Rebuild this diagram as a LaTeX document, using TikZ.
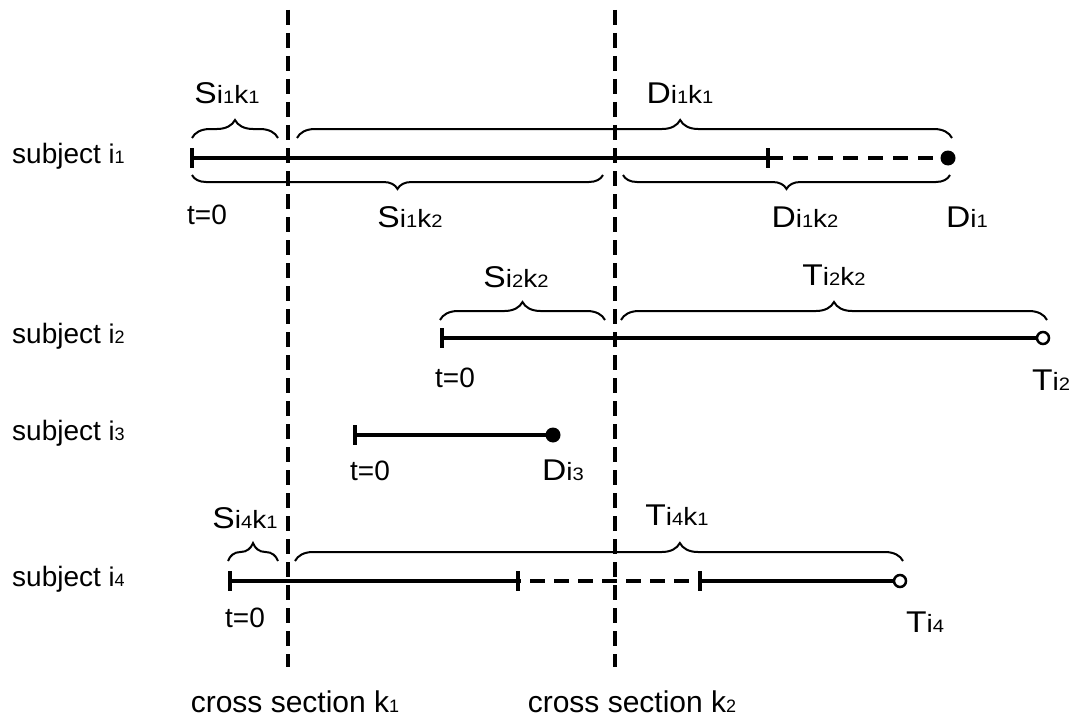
\documentclass[tikz,border=0pt]{standalone}
\usepackage{graphicx}
\usepackage{fontspec}
\setmainfont{Liberation Sans}
\usetikzlibrary{decorations.pathreplacing}
\newcommand\Lf{\fontsize{28}{32}\selectfont}
\newcommand\Bf{\fontsize{30}{34}\selectfont}
\newcommand\Sf{\fontsize{25}{28}\selectfont}
\newcommand\Df{\fontsize{18}{20}\selectfont}
\newcommand\lbl[5]{\scalebox{1.12}[1]{{\Bf #1}{\Sf #2}{\Df #3}{\Sf #4}{\Df #5}}}
\newcommand\lbs[3]{\scalebox{1.12}[1]{{\Bf #1}{\Sf #2}{\Df #3}}}
\tikzset{
  tl/.style={line width=3.8pt},
  dsh/.style={line width=3.8pt, dash pattern=on 15pt off 10pt},
  sec/.style={line width=4pt, dash pattern=on 15pt off 8pt},
  brU/.style={decorate, decoration={brace, amplitude=18pt}, line width=2pt},
  brL/.style={decorate, decoration={brace, amplitude=14pt, mirror}, line width=2pt},
  lab/.style={anchor=base, inner sep=0pt, font=\Lf},
  subj/.style={anchor=base west, inner sep=0pt, font=\Lf},
  cs/.style={anchor=base, inner sep=0pt, font=\fontsize{30}{34}\selectfont},
  dotf/.style={circle, fill=black, inner sep=0pt, minimum size=15pt},
  doto/.style={circle, draw=black, fill=white, line width=2.5pt, inner sep=0pt, minimum size=12pt},
}
\begin{document}
\begin{tikzpicture}[x=1pt, y=-1pt]
\useasboundingbox (0,0) rectangle (1072,717);
% cross sections
\coordinate (k1t) at (288,10); \coordinate (k1b) at (288,667);
\coordinate (k2t) at (615,10); \coordinate (k2b) at (615,667);
\draw[sec] (k1t) -- (k1b);
\draw[sec] (k2t) -- (k2b);
\node[cs] (csk1) at (295,712) {cross section k{\fontsize{18}{20}\selectfont 1}};
\node[cs] (csk2) at (632,712) {cross section k{\fontsize{18}{20}\selectfont 2}};

% subject labels
\node[subj] (sub1) at (12,163) {subject {\fontsize{27}{30}\selectfont i}{\Df 1}};
\node[subj] (sub2) at (12,343) {subject {\fontsize{27}{30}\selectfont i}{\Df 2}};
\node[subj] (sub3) at (12,440) {subject {\fontsize{27}{30}\selectfont i}{\Df 3}};
\node[subj] (sub4) at (12,586) {subject {\fontsize{27}{30}\selectfont i}{\Df 4}};

% ---- subject i1
\coordinate (a1) at (192,158); \coordinate (b1) at (768,158); \coordinate (c1) at (948,158);
\draw[tl] (a1) -- (b1);
\draw[dsh] (b1) -- (c1);
\draw[tl] ([yshift=10pt]a1) -- ([yshift=-10pt]a1);
\draw[tl] ([yshift=10pt]b1) -- ([yshift=-10pt]b1);
\node[dotf] (e1) at (c1) {};
\coordinate (u1a) at (192,138); \coordinate (u1b) at (278,138);
\coordinate (u1c) at (297,138); \coordinate (u1d) at (952,138);
\draw[brU] (u1a) -- (u1b);
\draw[brU, decoration={brace, amplitude=18pt, aspect=0.585}] (u1c) -- (u1d);
\coordinate (l1a) at (192,175); \coordinate (l1b) at (603,175);
\coordinate (l1c) at (623,175); \coordinate (l1d) at (950,175);
\draw[brL] (l1a) -- (l1b);
\draw[brL] (l1c) -- (l1d);
\node[lab] (S11) at (227,103) {\lbl{S}{i}{1}{k}{1}};
\node[lab] (D11) at (680,103) {\lbl{D}{i}{1}{k}{1}};
\node[lab] (t01) at (207,224) {t=0};
\node[lab] (S12) at (410,227) {\lbl{S}{i}{1}{k}{2}};
\node[lab] (D12) at (805,227) {\lbl{D}{i}{1}{k}{2}};
\node[lab] (D1) at (967,227) {\lbs{D}{i}{1}};

% ---- subject i2
\coordinate (a2) at (442,338); \coordinate (c2) at (1043,338);
\draw[tl] (a2) -- (c2);
\draw[tl] ([yshift=10pt]a2) -- ([yshift=-10pt]a2);
\node[doto] (e2) at (c2) {};
\coordinate (u2a) at (440,320); \coordinate (u2b) at (605,320);
\coordinate (u2c) at (621,320); \coordinate (u2d) at (1047,320);
\draw[brU] (u2a) -- (u2b);
\draw[brU] (u2c) -- (u2d);
\node[lab] (S22) at (516,287) {\lbl{S}{i}{2}{k}{2}};
\node[lab] (T22) at (834,285) {\lbl{T}{i}{2}{k}{2}};
\node[lab] (t02) at (455,387) {t=0};
\node[lab] (T2) at (1051,390) {\lbs{T}{i}{2}};

% ---- subject i3
\coordinate (a3) at (355,435); \coordinate (c3) at (553,435);
\draw[tl] (a3) -- (c3);
\draw[tl] ([yshift=10pt]a3) -- ([yshift=-10pt]a3);
\node[dotf] (e3) at (c3) {};
\node[lab] (t03) at (370,480) {t=0};
\node[lab] (D3) at (563,480) {\lbs{D}{i}{3}};

% ---- subject i4
\coordinate (a4) at (230,581); \coordinate (b4) at (518,581);
\coordinate (d4) at (700,581); \coordinate (c4) at (900,581);
\draw[tl] (a4) -- (b4);
\draw[dsh, dash pattern=on 15pt off 9pt, dash phase=-12pt] (b4) -- (d4);
\draw[tl] (d4) -- (c4);
\draw[tl] ([yshift=10pt]a4) -- ([yshift=-10pt]a4);
\draw[tl] ([yshift=10pt]b4) -- ([yshift=-10pt]b4);
\draw[tl] ([yshift=10pt]d4) -- ([yshift=-10pt]d4);
\node[doto] (e4) at (c4) {};
\coordinate (u4a) at (228,561); \coordinate (u4b) at (278,561);
\coordinate (u4c) at (295,561); \coordinate (u4d) at (903,561);
\draw[brU] (u4a) -- (u4b);
\draw[brU, decoration={brace, amplitude=18pt, aspect=0.633}] (u4c) -- (u4d);
\node[lab] (S41) at (245,528) {\lbl{S}{i}{4}{k}{1}};
\node[lab] (T41) at (677,525) {\lbl{T}{i}{4}{k}{1}};
\node[lab] (t04) at (245,627) {t=0};
\node[lab] (T4) at (925,632) {\lbs{T}{i}{4}};
\end{tikzpicture}
\end{document}
